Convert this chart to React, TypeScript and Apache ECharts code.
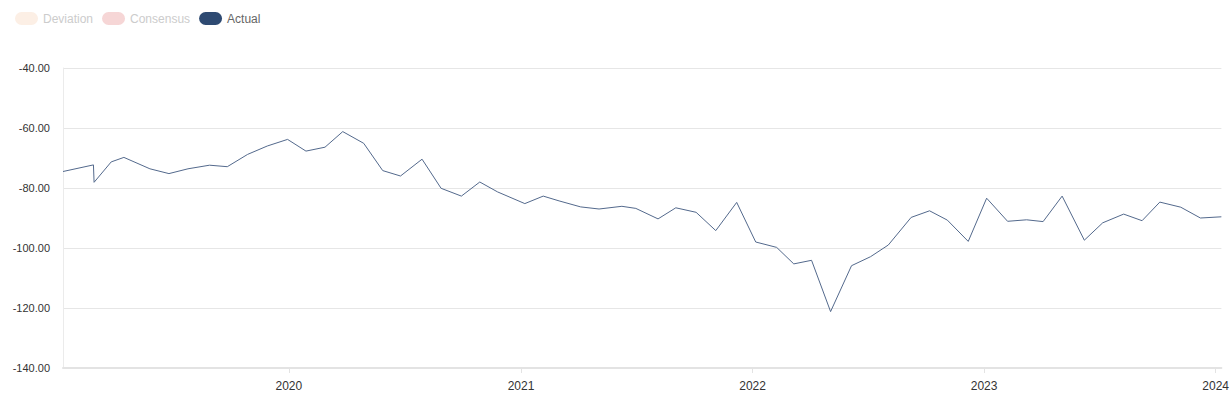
import React, { useEffect, useRef } from "react";
import * as echarts from "echarts";

const dates: string[] = [
  "2019-01-10", "2019-02-27", "2019-02-28", "2019-03-27", "2019-04-16", "2019-05-27",
  "2019-06-26", "2019-07-26", "2019-08-29", "2019-09-26", "2019-10-28", "2019-11-28",
  "2019-12-30", "2020-01-28", "2020-02-27", "2020-03-26", "2020-04-28", "2020-05-28",
  "2020-06-25", "2020-07-29", "2020-08-28", "2020-09-29", "2020-10-28", "2020-11-25",
  "2021-01-07", "2021-02-05", "2021-03-02", "2021-04-05", "2021-05-04", "2021-06-09",
  "2021-07-01", "2021-08-05", "2021-09-02", "2021-10-04", "2021-11-04", "2021-12-07",
  "2022-01-06", "2022-02-08", "2022-03-07", "2022-04-04", "2022-05-04", "2022-06-06",
  "2022-07-06", "2022-08-03", "2022-09-08", "2022-10-07", "2022-11-04", "2022-12-07",
  "2023-01-05", "2023-02-07", "2023-03-09", "2023-04-04", "2023-05-04", "2023-06-08",
  "2023-07-07", "2023-08-09", "2023-09-07", "2023-10-05", "2023-11-07", "2023-12-08",
  "2024-01-10",
];

const actual: number[] = [
  -74.5, -72.3, -78.1, -71.3, -69.8, -73.6,
  -75.2, -73.6, -72.4, -72.9, -68.8, -66.0,
  -63.8, -67.7, -66.4, -61.2, -65.1, -74.2,
  -76.0, -70.4, -80.1, -82.7, -78.0, -81.3,
  -85.2, -82.7, -84.3, -86.3, -87.0, -86.1,
  -86.8, -90.3, -86.6, -88.1, -94.2, -84.8,
  -98.0, -99.8, -105.3, -104.1, -121.2, -105.9,
  -102.9, -99.0, -89.8, -87.6, -90.7, -97.8,
  -83.4, -91.1, -90.6, -91.2, -82.7, -97.4,
  -91.6, -88.7, -90.9, -84.7, -86.4, -90.0,
  -89.6,
];

const legendNames: string[] = ["Deviation", "Consensus", "Actual"];
const legendColors: string[] = ["#fcefe5", "#f6d6d6", "#2e4a72"];
const legendTextColors: string[] = ["#cccccc", "#cccccc", "#666666"];

const DAY = 24 * 3600 * 1000;
const PILL = "path://M6.5,0 H16.5 A6.5,6.5 0 0 1 16.5,13 H6.5 A6.5,6.5 0 0 1 6.5,0 Z";

export default function App() {
  const ref = useRef<HTMLDivElement>(null);

  useEffect(() => {
    if (!ref.current) return;
    const chart = echarts.init(ref.current, null, { renderer: "svg" });
    const font = "'Liberation Sans', Arial, sans-serif";
    const tMin = new Date(dates[0] + "T00:00:00").getTime();
    const tMax = new Date(dates[dates.length - 1] + "T00:00:00").getTime();
    const option: any = {
      animation: false,
      textStyle: { fontFamily: font },
      legend: {
        left: 10,
        top: 7,
        icon: PILL,
        itemWidth: 23,
        itemHeight: 13,
        itemGap: 9,
        textStyle: { fontSize: 12, fontFamily: font },
        data: legendNames.map((n, i) => ({
          name: n,
          itemStyle: { color: legendColors[i] },
          textStyle: { color: legendTextColors[i] },
        })),
      },
      grid: { left: 63, right: 10, top: 68, bottom: 32, containLabel: false },
      xAxis: {
        type: "time",
        min: tMin,
        max: tMax,
        splitNumber: 5,
        minInterval: 365 * DAY,
        maxInterval: 366 * DAY,
        axisLine: { show: true, lineStyle: { color: "#e3e3e3", width: 2 } },
        axisTick: { show: true, length: 5, lineStyle: { color: "#e3e3e3" } },
        splitLine: { show: false },
        axisLabel: {
          color: "#333",
          fontSize: 12,
          margin: 12,
          fontFamily: font,
          formatter: (v: number) => String(new Date(v).getFullYear()),
        },
      },
      yAxis: {
        type: "value",
        min: -140,
        max: -40,
        interval: 20,
        axisLine: { show: true, lineStyle: { color: "#ebebeb", width: 1 } },
        axisTick: { show: false },
        splitLine: { show: true, lineStyle: { color: "#e6e6e6", width: 1 } },
        axisLabel: {
          color: "#333",
          fontSize: 11,
          margin: 13,
          fontFamily: font,
          formatter: (v: number) => v.toFixed(2),
        },
      },
      series: [
        { name: "Deviation", type: "line", data: [], itemStyle: { color: legendColors[0] } },
        { name: "Consensus", type: "line", data: [], itemStyle: { color: legendColors[1] } },
        {
          name: "Actual",
          type: "line",
          data: dates.map((d, i) => [new Date(d + "T00:00:00").getTime(), actual[i]]),
          showSymbol: false,
          symbol: "none",
          itemStyle: { color: legendColors[2] },
          lineStyle: { color: "#53698c", width: 1 },
        },
      ],
    };
    chart.setOption(option);
    return () => chart.dispose();
  }, []);

  return (
    <div
      ref={ref}
      style={{ position: "fixed", left: 0, top: 0, width: 1232, height: 400, background: "#fff" }}
    />
  );
}
